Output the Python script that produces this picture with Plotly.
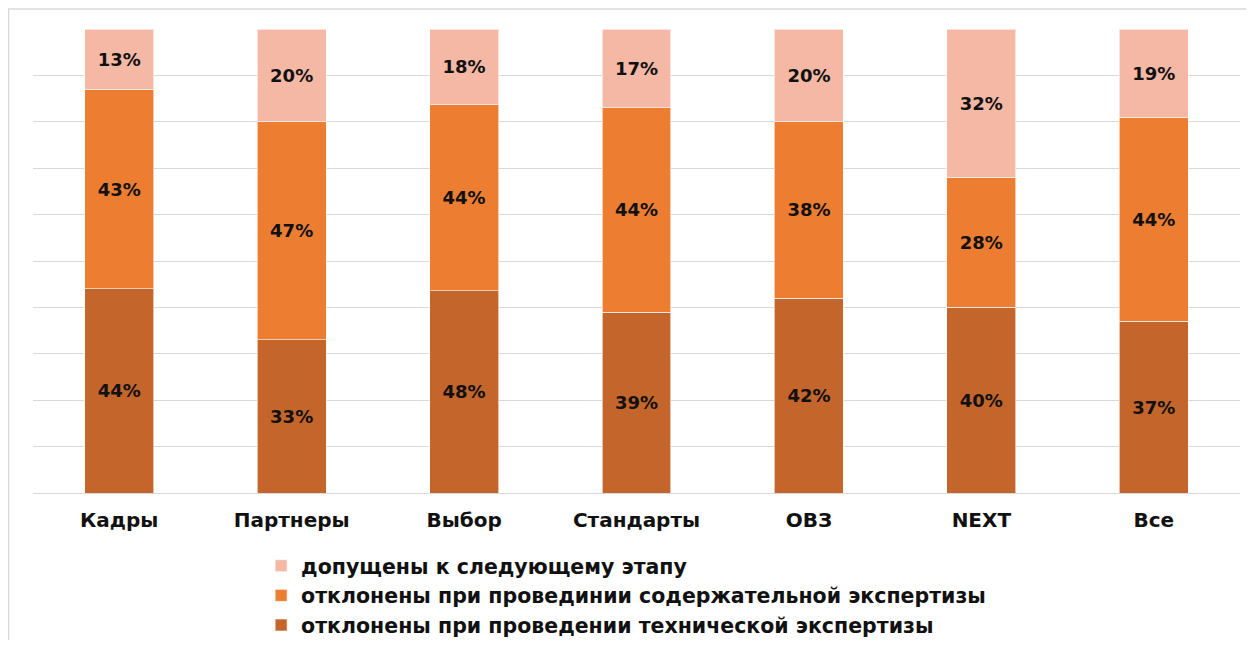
import plotly.graph_objects as go

categories = ["Кадры", "Партнеры", "Выбор", "Стандарты", "ОВЗ", "NEXT", "Все"]
technical = [44, 33, 48, 39, 42, 40, 37]
content = [43, 47, 44, 44, 38, 28, 44]
admitted = [13, 20, 18, 17, 20, 32, 19]

series = [
    ("отклонены при проведении технической экспертизы", technical, "#C4652B"),
    ("отклонены при провединии содержательной экспертизы", content, "#ED7D31"),
    ("допущены к следующему этапу", admitted, "#F4B8A5"),
]

FONT = "DejaVu Sans"

fig = go.Figure()
for name, values, color in series:
    fig.add_bar(
        x=categories,
        y=values,
        name=name,
        text=[f"{v}%" for v in values],
        textposition="inside",
        insidetextanchor="middle",
        textangle=0,
        constraintext="none",
        textfont=dict(family=FONT, size=18, color="#111111", weight=700),
        marker=dict(color=color, line=dict(color="rgba(255,255,255,0.6)", width=1)),
        width=0.4,
    )

# chart frame (cropped at right and bottom in the source picture)
fig.add_shape(
    type="rect", xref="paper", yref="paper",
    x0=-0.0203, x1=1.03, y0=-0.4, y1=1.0431,
    line=dict(color="#D9D9D9", width=1.5), layer="below",
)

fig.update_layout(
    barmode="stack",
    barnorm="percent",
    width=1238,
    height=632,
    margin=dict(l=25, r=6, t=21, b=147, autoexpand=False),
    paper_bgcolor="white",
    plot_bgcolor="white",
    bargap=0.6,
    font=dict(family=FONT, size=16, color="#111111"),
    xaxis=dict(
        showline=False,
        ticks="",
        ticklabelstandoff=13,
        tickfont=dict(family=FONT, size=20, color="#111111", weight=700),
    ),
    yaxis=dict(
        range=[0, 100],
        dtick=10,
        showticklabels=False,
        gridcolor="#D9D9D9",
        gridwidth=1,
        zeroline=True,
        zerolinecolor="#D9D9D9",
        zerolinewidth=1,
    ),
    legend=dict(
        traceorder="reversed",
        x=0.189,
        y=-0.114,
        xanchor="left",
        yanchor="top",
        font=dict(family=FONT, size=20.5, color="#111111", weight=700),
        bgcolor="rgba(0,0,0,0)",
    ),
)

fig.write_html("out.html")
